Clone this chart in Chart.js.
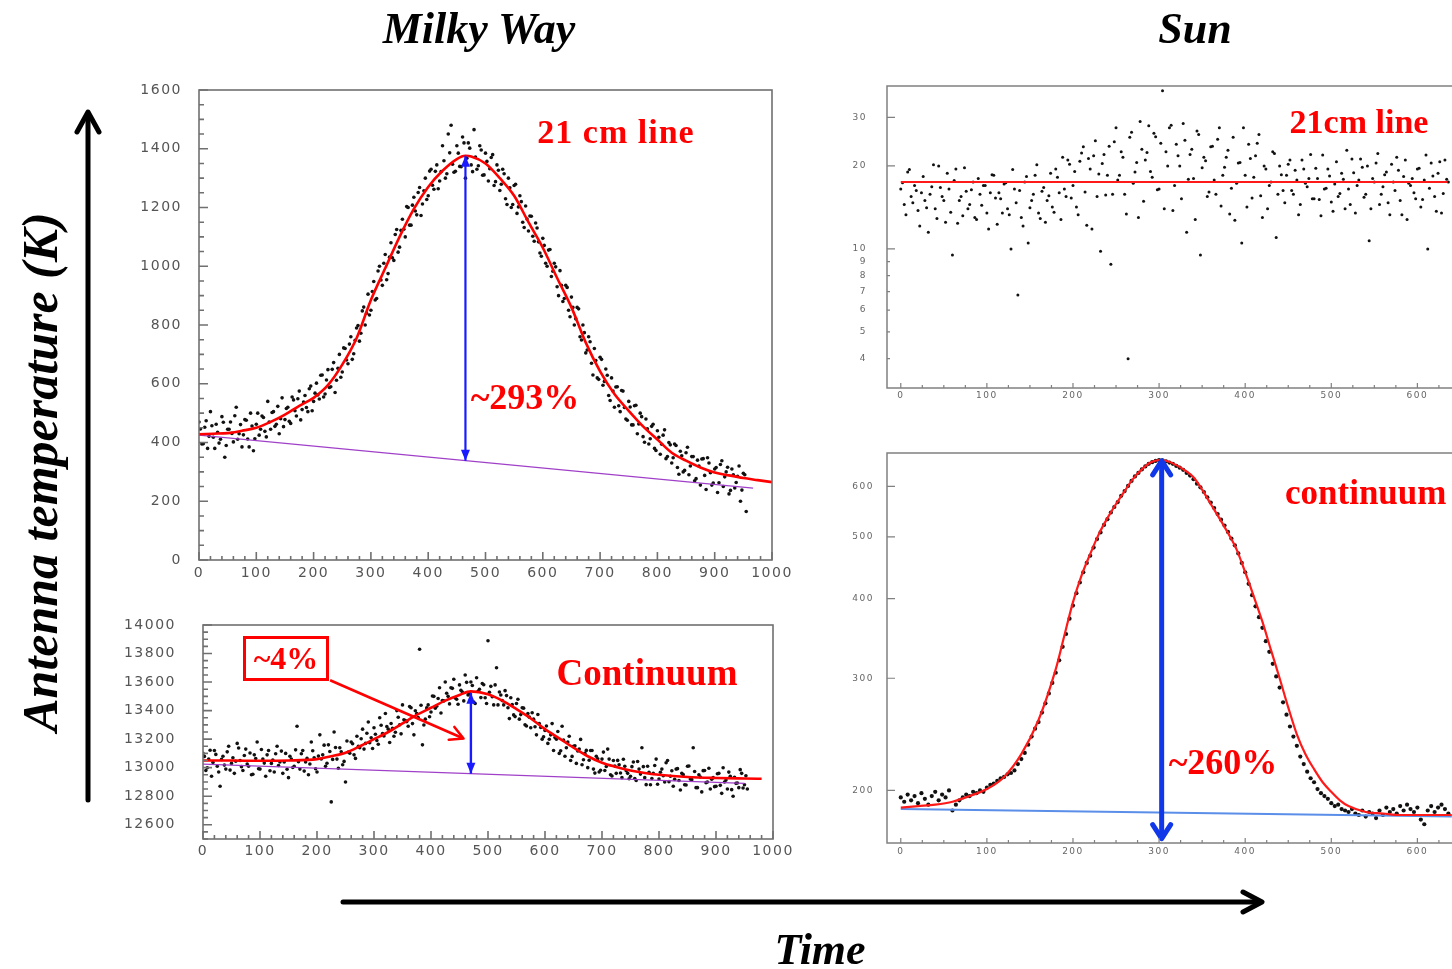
<!DOCTYPE html>
<html>
<head>
<meta charset="utf-8">
<script src="https://cdn.jsdelivr.net/npm/chart.js@4.4.1/dist/chart.umd.min.js"></script>
<style>
  html, body { margin: 0; padding: 0; background: #fff; }
  body { width: 1452px; height: 969px; position: relative; overflow: hidden; }
  canvas { position: absolute; }
  .txt { position: absolute; white-space: nowrap; transform: translate(-50%, -50%); line-height: 1; }
  .title { font-family: "Liberation Serif", "Times New Roman", serif; font-weight: bold; font-style: italic; font-size: 44px; color: #000; }
  .red { font-family: "Liberation Serif", "Times New Roman", serif; font-weight: bold; color: #f00; }
  #box4 { position: absolute; left: 243px; top: 636px; width: 80px; height: 39px; border: 3px solid #f00;
          font-family: "Liberation Serif", serif; font-weight: bold; color: #f00; font-size: 32px;
          text-align: center; line-height: 39px; }
  svg { position: absolute; left: 0; top: 0; }
</style>
</head>
<body>

<canvas id="mw21" width="700" height="530" style="left:120px;top:70px"></canvas>
<canvas id="mwc" width="700" height="270" style="left:120px;top:605px"></canvas>
<canvas id="sun21" width="640" height="350" style="left:820px;top:66px"></canvas>
<canvas id="sunc" width="640" height="440" style="left:820px;top:433px"></canvas>

<svg width="1452" height="969">
  <g stroke="#000" stroke-width="5" fill="none" stroke-linecap="round" stroke-linejoin="round">
    <line x1="88" y1="800" x2="88" y2="114"/>
    <polyline points="77,132 88,112 99,132"/>
    <line x1="343" y1="902" x2="1260" y2="902"/>
    <polyline points="1243,892 1262,902 1243,912"/>
  </g>
</svg>

<div class="txt title" style="left:479px;top:29px">Milky Way</div>
<div class="txt title" style="left:1195px;top:29px">Sun</div>
<div class="txt title" style="left:820px;top:950px">Time</div>
<div class="txt title" style="left:40px;top:472px;transform:translate(-50%,-50%) rotate(-90deg);font-size:50px">Antenna temperature (K)</div>

<div class="txt red" style="left:616px;top:132px;font-size:34px;letter-spacing:1px">21 cm line</div>
<div class="txt red" style="left:525px;top:397px;font-size:36px">~293%</div>
<div class="txt red" style="left:647px;top:672px;font-size:37px">Continuum</div>
<div id="box4">~4%</div>
<div class="txt red" style="left:1359px;top:122px;font-size:34px">21cm line</div>
<div class="txt red" style="left:1285px;top:492px;font-size:35px;transform:translate(0,-50%)">continuum</div>
<div class="txt red" style="left:1223px;top:762px;font-size:36px">~260%</div>

<script>
// ---------- Milky Way, 21 cm line ----------
var mw21XTicks = [0, 100, 200, 300, 400, 500, 600, 700, 800, 900, 1000];
var mw21YTicks = [0, 200, 400, 600, 800, 1000, 1200, 1400, 1600];
var mw21Points = [
  [0,470],[5,395],[10,452],[15,380],[20,505],[25,418],[30,462],[35,398],[40,488],[45,350],
  [50,445],[55,470],[60,402],[65,520],[70,430],[75,385],[80,478],[85,412],[90,500],[95,372],
  [100,462],[105,425],[110,490],[115,438],[120,540],[125,445],[130,505],[135,462],[140,430],[145,552],
  [150,478],[155,520],[160,465],[165,545],[170,490],[175,575],[180,512],[185,560],[190,505],[195,592],
  [200,540],[205,602],[210,548],[215,630],[220,565],[225,648],[230,590],[235,672],[240,612],[245,700],
  [250,640],[255,720],[260,668],[265,760],[270,702],[275,790],[280,745],[285,848],[290,800],[295,905],
  [300,850],[305,948],[310,890],[315,1000],[320,935],[325,1040],[330,975],[335,1080],[340,1020],[345,1125],
  [350,1065],[355,1160],[360,1100],[365,1200],[370,1140],[375,1235],[380,1175],[385,1268],[390,1212],[395,1300],
  [400,1240],[405,1330],[410,1262],[415,1345],[420,1290],[425,1410],[430,1300],[435,1450],[440,1480],[445,1320],
  [450,1410],[455,1340],[460,1440],[465,1300],[470,1420],[475,1345],[480,1465],[485,1330],[490,1410],[495,1310],
  [500,1385],[505,1290],[510,1370],[515,1275],[520,1345],[525,1258],[530,1330],[535,1230],[540,1300],[545,1200],
  [550,1275],[555,1180],[560,1240],[565,1150],[570,1205],[575,1120],[580,1170],[585,1085],[590,1130],[595,1045],
  [600,1095],[605,1010],[610,1055],[615,965],[620,1010],[625,930],[630,985],[635,880],[640,935],[645,850],
  [650,895],[655,800],[660,860],[665,760],[670,800],[675,705],[680,760],[685,670],[690,720],[695,620],
  [700,690],[705,595],[710,650],[715,560],[720,620],[725,520],[730,590],[735,505],[740,575],[745,480],
  [750,540],[755,460],[760,525],[765,430],[770,500],[775,420],[780,480],[785,395],[790,455],[795,380],
  [800,440],[805,360],[810,425],[815,345],[820,400],[825,330],[830,395],[835,315],[840,370],[845,300],
  [850,365],[855,290],[860,352],[865,270],[870,340],[875,255],[880,345],[885,240],[890,330],[895,255],
  [900,310],[905,230],[910,325],[915,250],[920,300],[925,225],[930,310],[935,245],[940,285],[945,200],
  [950,295],[955,165]
];
var mw21Points2 = [
  [2.5,446],[7.5,396],[12.5,474],[17.5,421],[22.5,457],[27.5,380],[32.5,435],[37.5,411],[42.5,469],[47.5,390],
  [52.5,445],[57.5,431],[62.5,491],[67.5,411],[72.5,461],[77.5,426],[82.5,476],[87.5,385],[92.5,456],[97.5,413],
  [102.5,500],[107.5,445],[112.5,485],[117.5,419],[122.5,470],[127.5,502],[132.5,455],[137.5,523],[142.5,481],[147.5,454],
  [152.5,516],[157.5,472],[162.5,555],[167.5,508],[172.5,549],[177.5,477],[182.5,538],[187.5,519],[192.5,583],[197.5,508],
  [202.5,568],[207.5,562],[212.5,629],[217.5,555],[222.5,613],[227.5,587],[232.5,649],[237.5,570],[242.5,653],[247.5,622],
  [252.5,722],[257.5,681],[262.5,735],[267.5,683],[272.5,748],[277.5,798],[282.5,772],[287.5,861],[292.5,840],[297.5,834],
  [302.5,914],[307.5,885],[312.5,984],[317.5,953],[322.5,1010],[327.5,954],[332.5,1031],[337.5,1029],[342.5,1108],[347.5,1048],
  [352.5,1122],[357.5,1126],[362.5,1203],[367.5,1140],[372.5,1208],[377.5,1188],[382.5,1251],[387.5,1173],[392.5,1257],[397.5,1227],
  [402.5,1324],[407.5,1276],[412.5,1323],[417.5,1264],[422.5,1322],[427.5,1359],[432.5,1315],[437.5,1386],[442.5,1347],[447.5,1323],
  [452.5,1385],[457.5,1339],[462.5,1420],[467.5,1368],[472.5,1402],[477.5,1322],[482.5,1372],[487.5,1342],[492.5,1396],[497.5,1311],
  [502.5,1357],[507.5,1332],[512.5,1380],[517.5,1288],[522.5,1327],[527.5,1279],[532.5,1315],[537.5,1210],[542.5,1267],[547.5,1210],
  [552.5,1279],[557.5,1202],[562.5,1220],[567.5,1132],[572.5,1161],[577.5,1171],[582.5,1102],[587.5,1147],[592.5,1083],[597.5,1034],
  [602.5,1071],[607.5,1000],[612.5,1057],[617.5,983],[622.5,998],[627.5,900],[632.5,935],[637.5,890],[642.5,928],[647.5,828],
  [652.5,860],[657.5,821],[662.5,855],[667.5,749],[672.5,774],[677.5,715],[682.5,743],[687.5,630],[692.5,679],[697.5,615],
  [702.5,683],[707.5,608],[712.5,629],[717.5,543],[722.5,575],[727.5,589],[732.5,525],[737.5,577],[742.5,519],[747.5,476],
  [752.5,521],[757.5,460],[762.5,527],[767.5,463],[772.5,488],[777.5,401],[782.5,447],[787.5,413],[792.5,462],[797.5,373],
  [802.5,418],[807.5,394],[812.5,443],[817.5,352],[822.5,392],[827.5,348],[832.5,390],[837.5,292],[842.5,355],[847.5,305],
  [852.5,384],[857.5,320],[862.5,352],[867.5,277],[872.5,320],[877.5,344],[882.5,288],[887.5,348],[892.5,297],[897.5,262],
  [902.5,315],[907.5,263],[912.5,338],[917.5,283],[922.5,316],[927.5,237],[932.5,290],[937.5,264],[942.5,320],[947.5,238],
  [952.5,290]
];
var mw21FitX = [0,25,50,75,100,125,150,175,200,225,250,275,300,325,350,375,400,425,450,465,475,500,525,550,575,600,625,650,675,700,725,750,775,800,825,850,875,900,925,950,975,1000];
var mw21FitY = [428,430,432,440,450,470,495,525,552,595,665,755,885,993,1100,1195,1270,1325,1365,1376,1374,1350,1300,1240,1150,1063,960,860,740,642,565,508,455,410,365,338,315,298,288,279,272,265];
var mw21BaseX = [0, 967];
var mw21BaseY = [425, 245];
var mw21ArrowX = [465, 465];
var mw21ArrowY = [338, 1376];

// ---------- Milky Way, continuum ----------
var mwcXTicks = [0, 100, 200, 300, 400, 500, 600, 700, 800, 900, 1000];
var mwcYTicks = [12600, 12800, 13000, 13200, 13400, 13600, 13800, 14000];
var mwcPoints = [
  [0,13100],[5,12980],[10,13060],[15,12940],[20,13120],[25,13010],[30,12870],[35,13080],[40,12990],[45,13150],
  [50,13030],[55,12960],[60,13170],[65,13050],[70,12980],[75,13130],[80,13010],[85,12950],[90,13090],[95,13180],
  [100,12990],[105,13060],[110,12940],[115,13120],[120,13030],[125,12970],[130,13150],[135,13040],[140,12960],[145,13100],
  [150,12930],[155,13060],[160,13010],[165,13290],[170,12990],[175,13120],[180,13040],[185,12950],[190,13180],[195,13070],
  [200,12970],[205,13230],[210,13090],[215,13010],[220,13160],[225,12760],[230,13250],[235,13060],[240,13140],[245,13020],
  [250,12900],[255,13110],[260,13180],[265,13090],[270,13220],[275,13140],[280,13270],[285,13170],[290,13320],[295,13210],
  [300,13280],[305,13190],[310,13350],[315,13240],[320,13380],[325,13270],[330,13310],[335,13220],[340,13400],[345,13300],
  [350,13440],[355,13330],[360,13290],[365,13420],[370,13230],[375,13380],[380,13830],[385,13160],[390,13340],[395,13440],
  [400,13390],[405,13500],[410,13430],[415,13560],[420,13470],[425,13600],[430,13500],[435,13560],[440,13620],[445,13480],
  [450,13580],[455,13530],[460,13650],[465,13510],[470,13600],[475,13460],[480,13630],[485,13550],[490,13590],[495,13490],
  [500,13890],[505,13570],[510,13440],[515,13700],[520,13530],[525,13470],[530,13540],[535,13420],[540,13490],[545,13370],
  [550,13450],[555,13340],[560,13420],[565,13300],[570,13380],[575,13280],[580,13340],[585,13230],[590,13310],[595,13200],
  [600,13260],[605,13170],[610,13230],[615,13120],[620,13200],[625,13100],[630,13290],[635,13080],[640,13180],[645,13050],
  [650,13150],[655,13030],[660,13130],[665,13020],[670,13100],[675,13000],[680,13120],[685,12990],[690,13080],[695,12970],
  [700,13060],[705,12980],[710,13130],[715,12950],[720,13050],[725,12960],[730,13020],[735,12930],[740,13010],[745,12960],
  [750,12940],[755,13040],[760,12910],[765,12990],[770,13140],[775,12930],[780,13010],[785,12880],[790,12960],[795,13060],
  [800,12920],[805,12990],[810,12900],[815,13050],[820,12940],[825,12870],[830,12990],[835,12910],[840,12960],[845,12880],
  [850,13010],[855,12920],[860,13140],[865,12860],[870,12950],[875,12830],[880,12980],[885,12900],[890,12850],[895,12930],
  [900,12870],[905,12960],[910,12820],[915,12900],[920,12850],[925,12940],[930,12800],[935,12890],[940,12860],[945,12960],
  [950,12880],[955,12850]
];
var mwcPoints2 = [
  [2.5,13079],[7.5,12999],[12.5,13122],[17.5,13037],[22.5,13093],[27.5,12970],[32.5,13058],[37.5,13018],[42.5,13111],[47.5,12983],
  [52.5,13069],[57.5,13045],[62.5,13138],[67.5,13007],[72.5,13085],[77.5,13026],[82.5,13103],[87.5,12954],[92.5,13064],[97.5,12992],
  [102.5,13127],[107.5,13032],[112.5,13090],[117.5,12978],[122.5,13053],[127.5,13098],[132.5,13015],[137.5,13116],[142.5,13040],[147.5,12989],
  [152.5,13080],[157.5,13001],[162.5,13125],[167.5,13041],[172.5,13098],[177.5,12976],[182.5,13065],[187.5,13026],[192.5,13119],[197.5,12992],
  [202.5,13081],[207.5,13061],[212.5,13158],[217.5,13031],[222.5,13113],[227.5,13058],[232.5,13141],[237.5,12996],[242.5,13112],[247.5,13044],
  [252.5,13187],[257.5,13101],[262.5,13168],[267.5,13065],[272.5,13149],[277.5,13203],[282.5,13130],[287.5,13241],[292.5,13175],[297.5,13134],
  [302.5,13234],[307.5,13164],[312.5,13297],[317.5,13222],[322.5,13288],[327.5,13176],[332.5,13276],[337.5,13248],[342.5,13353],[347.5,13237],
  [352.5,13335],[357.5,13323],[362.5,13428],[367.5,13309],[372.5,13399],[377.5,13351],[382.5,13438],[387.5,13299],[392.5,13419],[397.5,13357],
  [402.5,13502],[407.5,13417],[412.5,13485],[417.5,13383],[422.5,13468],[427.5,13522],[432.5,13447],[437.5,13556],[442.5,13488],[447.5,13445],
  [452.5,13542],[457.5,13468],[462.5,13598],[467.5,13519],[472.5,13576],[477.5,13450],[482.5,13535],[487.5,13491],[492.5,13581],[497.5,13450],
  [502.5,13529],[507.5,13497],[512.5,13580],[517.5,13440],[522.5,13509],[527.5,13440],[532.5,13505],[537.5,13344],[542.5,13442],[547.5,13358],
  [552.5,13480],[557.5,13372],[562.5,13417],[567.5,13292],[572.5,13354],[577.5,13385],[582.5,13287],[587.5,13373],[592.5,13282],[597.5,13216],
  [602.5,13292],[607.5,13199],[612.5,13309],[617.5,13211],[622.5,13254],[627.5,13118],[632.5,13193],[637.5,13140],[642.5,13220],[647.5,13079],
  [652.5,13153],[657.5,13117],[662.5,13198],[667.5,13055],[672.5,13121],[677.5,13052],[682.5,13120],[687.5,12962],[692.5,13063],[697.5,12982],
  [702.5,13109],[707.5,13008],[712.5,13060],[717.5,12942],[722.5,13011],[727.5,13051],[732.5,12963],[737.5,13059],[742.5,12978],[747.5,12922],
  [752.5,13007],[757.5,12924],[762.5,13043],[767.5,12955],[772.5,13007],[777.5,12881],[782.5,12967],[787.5,12924],[792.5,13015],[797.5,12884],
  [802.5,12968],[807.5,12943],[812.5,13034],[817.5,12902],[822.5,12978],[827.5,12918],[832.5,12993],[837.5,12843],[842.5,12951],[847.5,12878],
  [852.5,13012],[857.5,12916],[862.5,12973],[867.5,12860],[872.5,12935],[877.5,12979],[882.5,12895],[887.5,12996],[892.5,12919],[897.5,12867],
  [902.5,12957],[907.5,12876],[912.5,12999],[917.5,12913],[922.5,12969],[927.5,12846],[932.5,12933],[937.5,12893],[942.5,12986],[947.5,12857],
  [952.5,12943]
];
var mwcFitX = [0,50,100,150,200,225,250,275,300,325,350,375,400,425,450,470,500,525,550,575,600,625,650,675,700,725,750,775,800,850,900,950,980];
var mwcFitY = [13050,13050,13048,13050,13060,13080,13105,13150,13200,13250,13310,13370,13420,13470,13510,13535,13515,13470,13410,13345,13270,13205,13140,13080,13035,13005,12980,12962,12950,12935,12928,12924,12922];
var mwcBaseX = [0, 950];
var mwcBaseY = [13025, 12890];
var mwcArrowX = [470, 470];
var mwcArrowY = [12958, 13525];
var mwcPointerX = [223, 457];
var mwcPointerY = [13613, 13204];

// ---------- Sun, 21 cm line ----------
var sun21XTicks = [0, 100, 200, 300, 400, 500, 600];
var sun21YTicks = [4, 5, 6, 7, 8, 9, 10, 20, 30];
var sun21Points = [
  [0,16.5],[4,14.5],[8,19],[12,15.5],[16,17],[20,13.8],[24,16],[28,15],[32,11.5],[36,16.8],
  [40,14],[44,20],[48,15.5],[52,12.5],[56,16.5],[60,9.5],[64,19.5],[68,15],[72,13.2],[76,16.2],
  [80,14.5],[84,17.5],[88,12.8],[92,15.8],[96,17],[100,13.5],[104,16],[108,18.5],[112,12.3],[116,15.2],
  [120,17.2],[124,14],[128,10],[132,16.5],[136,6.8],[140,13],[144,17.5],[148,10.5],[152,15],[156,18.5],
  [160,13.5],[164,16.2],[168,12.5],[172,15.6],[176,14.2],[180,19.5],[184,16],[188,21.5],[192,15.5],[196,20.3],
  [200,17],[204,14.2],[208,20.8],[212,23.5],[216,12.2],[220,19.5],[224,21.8],[228,15.5],[232,9.8],[236,22],
  [240,18.5],[244,8.8],[248,24.5],[252,17.8],[256,22.5],[260,15.8],[264,4],[268,26.5],[272,19],[276,13],
  [280,23],[284,21],[288,28],[292,18.2],[296,25.5],[300,16.5],[304,37.5],[308,22.5],[312,27.5],[316,13.8],
  [320,24],[324,20],[328,28.5],[332,11.5],[336,22],[340,18],[344,26.8],[348,9.5],[352,21.5],[356,15.5],
  [360,23.5],[364,17.8],[368,25],[372,14.3],[376,19.8],[380,22.8],[384,16.6],[388,12.7],[392,20.5],[396,10.5],
  [400,18.5],[404,24],[408,15.3],[412,21.8],[416,26],[420,13],[424,19.5],[428,17],[432,22.5],[436,11],
  [440,20],[444,16.3],[448,18.5],[452,21],[456,15.8],[460,17.8],[464,14.5],[468,19.5],[472,16.8],[476,22],
  [480,15.2],[484,18],[488,13.2],[492,16.5],[496,19.5],[500,14.8],[504,17.2],[508,15.5],[512,18.8],[516,14],
  [520,16.5],[524,21.2],[528,13.5],[532,17.8],[536,19.8],[540,15.8],[544,10.7],[548,18],[552,20.5],[556,14.5],
  [560,16.8],[564,19],[568,13.3],[572,17.5],[576,21.5],[580,15],[584,18.3],[588,12.8],[592,17],[596,16],
  [600,19.5],[604,14.2],[608,17.8],[612,10],[616,20.5],[620,15.5],[624,18.8],[628,13.5],[632,21],[636,17.5]
];
var sun21Points2 = [
  [2,17.4],[6,13.3],[10,19.4],[14,14.7],[18,16.3],[22,12.1],[26,18.3],[30,14.1],[34,15.8],[38,20.2],
  [42,12.9],[46,16.7],[50,15],[54,18.8],[58,13.6],[62,17.7],[66,12.4],[70,15.5],[74,19.7],[78,14],
  [82,16.4],[86,13],[90,18],[94,14.4],[98,17],[102,11.8],[106,18.6],[110,15.3],[114,16],[118,13.5],
  [122,17.4],[126,13.3],[130,19.4],[134,14.7],[138,16.3],[142,12.1],[146,18.3],[150,14.1],[154,15.8],[158,20.2],
  [162,12.9],[166,16.7],[170,15],[174,18.8],[178,13.6],[182,18.2],[186,12.8],[190,16.5],[194,21],[198,15.3],
  [202,19.1],[206,13.3],[210,22.3],[214,16.1],[218,21.3],[222,11.8],[226,24.7],[230,18.7],[234,20.4],[238,15.7],
  [242,23.6],[246,15.8],[250,27.5],[254,18.5],[258,21.5],[262,13.4],[266,25.4],[270,17.3],[274,20.6],[278,29],
  [282,14.9],[286,22.4],[290,19.1],[294,26.3],[298,16.4],[302,24.2],[306,14],[310,20],[314,28.1],[318,17],
  [322,21.8],[326,15.2],[330,24.8],[334,17.9],[338,23],[342,12.8],[346,26],[350,19.7],[354,20.9],[358,16.1],
  [362,23.6],[366,15.8],[370,27.5],[374,18.5],[378,21.5],[382,13.4],[386,25.4],[390,17.3],[394,20.6],[398,27.5],
  [402,14.2],[406,21.3],[410,18.2],[414,24.2],[418,15.6],[422,20],[426,14],[430,17.5],[434,22.2],[438,15.8],
  [442,18.6],[446,14.7],[450,20.3],[454,16.3],[458,19.3],[462,13.3],[466,21],[470,17.3],[474,18],[478,15.2],
  [482,19.6],[486,15.1],[490,21.9],[494,16.6],[498,18.4],[502,13.7],[506,20.7],[510,15.9],[514,17.9],[518,22.8],
  [522,14.5],[526,18.9],[530,17],[534,21.2],[538,15.4],[542,20],[546,14],[550,17.5],[554,22.2],[558,15.8],
  [562,18.6],[566,14.7],[570,20.3],[574,16.3],[578,19.3],[582,13.3],[586,21],[590,17.3],[594,18],[598,15.2],
  [602,19.6],[606,15.1],[610,21.9],[614,16.6],[618,18.4],[622,13.7],[626,20.7],[630,15.9],[634,17.9]
];
var sun21FitX = [0, 635];
var sun21FitY = [17.5, 17.5];

// ---------- Sun, continuum ----------
var suncXTicks = [0, 100, 200, 300, 400, 500, 600];
var suncYTicks = [200, 300, 400, 500, 600];
var suncPoints = [
  [0,195],[4,192],[8,197],[12,193],[16,196],[20,191],[24,198],[28,194],[32,190],[36,196],
  [40,199],[44,193],[48,197],[52,195],[56,200],[60,186],[64,190],[68,193],[72,195],[76,197],
  [80,196],[84,199],[88,198],[92,200],[96,199],[100,202],[104,204],[108,205],[112,207],[116,209],
  [120,210],[124,212],[128,213],[132,215],[136,220],[140,224],[144,229],[148,236],[152,243],[156,250],
  [160,256],[164,265],[168,274],[172,284],[176,295],[180,306],[184,320],[188,336],[192,352],[196,372],
  [200,390],[204,408],[208,424],[212,440],[216,455],[220,467],[224,481],[228,496],[232,508],[236,522],
  [240,533],[244,546],[248,557],[252,567],[256,580],[260,590],[264,601],[268,612],[272,622],[276,630],
  [280,638],[284,645],[288,651],[292,655],[296,658],[300,660],[304,659],[308,657],[312,654],[316,651],
  [320,646],[324,642],[328,637],[332,630],[336,624],[340,616],[344,606],[348,598],[352,588],[356,577],
  [360,566],[364,555],[368,543],[372,532],[376,521],[380,509],[384,497],[388,485],[392,471],[396,455],
  [400,440],[404,422],[408,405],[412,389],[416,374],[420,360],[424,343],[428,330],[432,316],[436,302],
  [440,290],[444,275],[448,263],[452,252],[456,243],[460,235],[464,226],[468,220],[472,214],[476,209],
  [480,206],[484,201],[488,198],[492,196],[496,194],[500,191],[504,189],[508,190],[512,187],[516,186],
  [520,185],[524,187],[528,184],[532,183],[536,186],[540,182],[544,185],[548,184],[552,181],[556,186],
  [560,183],[564,188],[568,185],[572,187],[576,184],[580,189],[584,186],[588,190],[592,187],[596,185],
  [600,188],[604,180],[608,177],[612,186],[616,189],[620,185],[624,188],[628,190],[632,187],[636,184]
];
var suncFitX = [0,20,40,60,80,100,120,140,160,180,190,200,210,220,230,240,250,260,270,280,290,300,310,320,330,340,350,360,370,380,390,400,410,420,430,440,450,460,470,480,490,500,510,520,540,560,580,600,620,640];
var suncFitY = [188,189,190,192,196,201,210,228,258,310,350,395,435,470,505,535,563,590,617,638,654,660,657,648,636,620,593,563,535,507,478,440,403,368,332,300,270,245,228,216,206,199,193,189,185,184,183,183,183,183];
var suncBaseX = [0, 640];
var suncBaseY = [187, 182];
var suncArrowX = [303, 303];
var suncArrowY = [168, 658];

// helpers
function pairs(list) {
  return list.map(p => ({ x: p[0], y: p[1] }));
}
function zip(xs, ys) {
  return xs.map((x, i) => ({ x: x, y: ys[i] }));
}
function steps(from, to, step) {
  var out = [];
  for (var v = from; v <= to + 1e-9; v += step) out.push(v);
  return out;
}

// frame, inward ticks and tick labels, all placed through the chart scales
var axisFrame = {
  id: 'axisFrame',
  afterDraw(chart, args, o) {
    var ctx = chart.ctx, a = chart.chartArea;
    var xs = chart.scales.x, ys = chart.scales.y;
    ctx.save();
    ctx.strokeStyle = o.color;
    ctx.lineWidth = o.frameWidth;
    ctx.strokeRect(a.left, a.top, a.right - a.left, a.bottom - a.top);

    ctx.lineWidth = o.tickWidth;
    ctx.beginPath();
    o.xMajor.forEach(v => { var p = xs.getPixelForValue(v); ctx.moveTo(p, a.bottom); ctx.lineTo(p, a.bottom - o.xMajorLen); });
    o.xMinor.forEach(v => { var p = xs.getPixelForValue(v); ctx.moveTo(p, a.bottom); ctx.lineTo(p, a.bottom - o.xMinorLen); });
    o.yMajor.forEach(v => { var p = ys.getPixelForValue(v); ctx.moveTo(a.left, p); ctx.lineTo(a.left + o.yMajorLen, p); });
    o.yMinor.forEach(v => { var p = ys.getPixelForValue(v); ctx.moveTo(a.left, p); ctx.lineTo(a.left + o.yMinorLen, p); });
    ctx.stroke();

    ctx.fillStyle = o.labelColor;
    ctx.font = o.font;
    ctx.letterSpacing = o.spacing;
    ctx.textAlign = 'center';
    ctx.textBaseline = 'middle';
    o.xLabels.forEach(v => ctx.fillText(String(v), xs.getPixelForValue(v), a.bottom + o.xGap));
    ctx.textAlign = 'right';
    o.yLabels.forEach(v => ctx.fillText(String(v), a.left - o.yGap, ys.getPixelForValue(v)));
    ctx.restore();
  }
};

// arrow heads at the ends of datasets that carry an "arrow" setting
var arrowHeads = {
  id: 'arrowHeads',
  afterDatasetsDraw(chart) {
    var ctx = chart.ctx;
    chart.data.datasets.forEach((ds, i) => {
      if (!ds.arrow) return;
      var pts = chart.getDatasetMeta(i).data;
      ds.arrow.ends.forEach(e => {
        var tip = e === 'end' ? pts[pts.length - 1] : pts[0];
        var from = e === 'end' ? pts[pts.length - 2] : pts[1];
        var ang = Math.atan2(tip.y - from.y, tip.x - from.x);
        var L = ds.arrow.len, W = ds.arrow.half;
        var bx = tip.x - L * Math.cos(ang), by = tip.y - L * Math.sin(ang);
        var px = -Math.sin(ang) * W, py = Math.cos(ang) * W;
        ctx.save();
        ctx.beginPath();
        ctx.moveTo(bx + px, by + py);
        ctx.lineTo(tip.x, tip.y);
        ctx.lineTo(bx - px, by - py);
        if (ds.arrow.fill) {
          ctx.closePath();
          ctx.fillStyle = ds.borderColor;
          ctx.fill();
        } else {
          ctx.strokeStyle = ds.borderColor;
          ctx.lineWidth = ds.borderWidth;
          ctx.lineCap = 'round';
          ctx.lineJoin = 'round';
          ctx.stroke();
        }
        ctx.restore();
      });
    });
  }
};

function lineSet(data, color, width, extra) {
  return Object.assign({
    data: data, showLine: true, fill: false, borderColor: color, borderWidth: width,
    pointRadius: 0, pointHoverRadius: 0, tension: 0
  }, extra || {});
}
function dotSet(data, r) {
  return {
    data: data, showLine: false, pointRadius: r, pointHoverRadius: r,
    pointBackgroundColor: '#111', pointBorderWidth: 0
  };
}
function makeChart(id, datasets, pad, x, y, frame) {
  return new Chart(document.getElementById(id), {
    type: 'scatter',
    data: { datasets: datasets },
    options: {
      responsive: false,
      animation: false,
      layout: { padding: pad },
      plugins: { legend: { display: false }, tooltip: { enabled: false }, axisFrame: frame },
      scales: { x: Object.assign({ display: false }, x), y: Object.assign({ display: false }, y) }
    },
    plugins: [axisFrame, arrowHeads]
  });
}

var bigFrame = {
  color: '#707070', frameWidth: 1.6, tickWidth: 1.6, labelColor: '#555',
  font: '14px "DejaVu Sans"', spacing: '1.5px',
  xMajorLen: 8, xMinorLen: 4, yMajorLen: 9, yMinorLen: 5
};
var smallFrame = {
  color: '#808080', frameWidth: 1.5, tickWidth: 1.2, labelColor: '#666',
  font: '9px "DejaVu Sans"', spacing: '1.5px',
  xMajorLen: 5, xMinorLen: 3, yMajorLen: 8, yMinorLen: 3
};

makeChart('mw21', [
  lineSet(zip(mw21ArrowX, mw21ArrowY), '#1a1aff', 2.2, { arrow: { ends: ['start', 'end'], len: 11, half: 4.5, fill: true } }),
  lineSet(zip(mw21FitX, mw21FitY), '#ff0000', 2.6, { cubicInterpolationMode: 'monotone' }),
  lineSet(zip(mw21BaseX, mw21BaseY), '#a040c8', 1.3),
  dotSet(pairs(mw21Points.concat(mw21Points2)), 1.8)
], { left: 79, top: 20, right: 48, bottom: 40 },
  { type: 'linear', min: 0, max: 1000 }, { type: 'linear', min: 0, max: 1600 },
  Object.assign({}, bigFrame, {
    xMajor: mw21XTicks, xMinor: steps(0, 1000, 20), xLabels: mw21XTicks, xGap: 13,
    yMajor: mw21YTicks, yMinor: steps(0, 1600, 50), yLabels: mw21YTicks, yGap: 17
  }));

makeChart('mwc', [
  lineSet(zip(mwcPointerX, mwcPointerY), '#ff0000', 2.6, { arrow: { ends: ['end'], len: 13, half: 7, fill: false } }),
  lineSet(zip(mwcArrowX, mwcArrowY), '#1a1aff', 2.4, { arrow: { ends: ['start', 'end'], len: 11, half: 4.5, fill: true } }),
  lineSet(zip(mwcFitX, mwcFitY), '#ff0000', 2.6, { cubicInterpolationMode: 'monotone' }),
  lineSet(zip(mwcBaseX, mwcBaseY), '#a040c8', 1.3),
  dotSet(pairs(mwcPoints.concat(mwcPoints2)), 1.8)
], { left: 83, top: 20, right: 47, bottom: 36 },
  { type: 'linear', min: 0, max: 1000 }, { type: 'linear', min: 12500, max: 14000 },
  Object.assign({}, bigFrame, {
    xMajor: mwcXTicks, xMinor: steps(0, 1000, 20), xLabels: mwcXTicks, xGap: 12,
    yMajor: mwcYTicks, yMinor: steps(12500, 14000, 50), yLabels: mwcYTicks, yGap: 27
  }));

makeChart('sun21', [
  lineSet(zip(sun21FitX, sun21FitY), '#ff1a1a', 2),
  dotSet(pairs(sun21Points.concat(sun21Points2)), 1.5)
], { left: 67, top: 20, right: 3, bottom: 28 },
  { type: 'linear', min: -16, max: 646 }, { type: 'logarithmic', min: 3.13, max: 39 },
  Object.assign({}, smallFrame, {
    xMajor: sun21XTicks, xMinor: steps(0, 625, 25), xLabels: sun21XTicks, xGap: 8,
    yMajor: [10, 20, 30], yMinor: sun21YTicks, yLabels: sun21YTicks, yGap: 20
  }));

makeChart('sunc', [
  lineSet(zip(suncArrowX, suncArrowY), '#1038e8', 5, { arrow: { ends: ['start', 'end'], len: 14, half: 9, fill: false } }),
  lineSet(zip(suncFitX, suncFitY), '#ff1a1a', 2.2, { cubicInterpolationMode: 'monotone' }),
  lineSet(zip(suncBaseX, suncBaseY), '#5a8ee8', 2),
  dotSet(pairs(suncPoints), 2.1)
], { left: 67, top: 20, right: 3, bottom: 30 },
  { type: 'linear', min: -16, max: 646 }, { type: 'logarithmic', min: 165.4, max: 677 },
  Object.assign({}, smallFrame, {
    xMajor: suncXTicks, xMinor: steps(0, 625, 25), xLabels: suncXTicks, xGap: 9,
    yMajor: suncYTicks, yMinor: [], yLabels: suncYTicks, yGap: 13
  }));
</script>
</body>
</html>
